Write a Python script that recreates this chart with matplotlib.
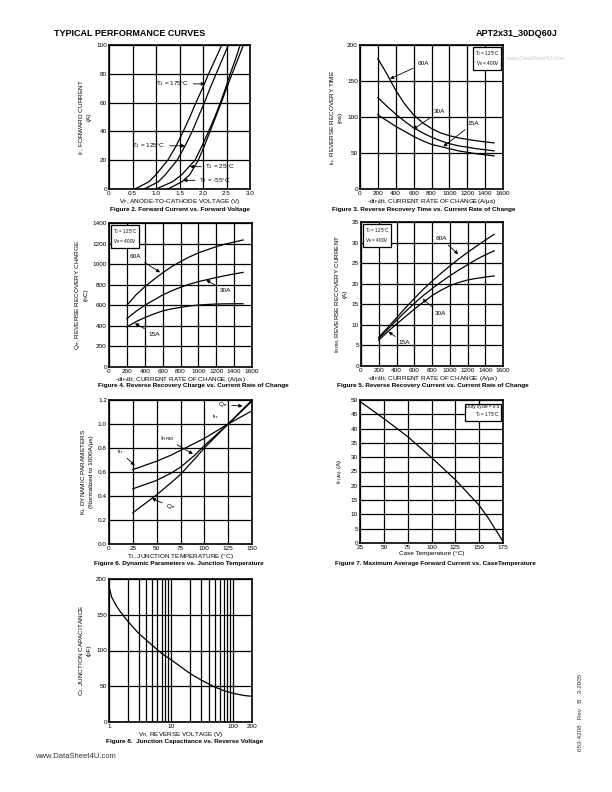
import matplotlib

matplotlib.use("Agg")
import matplotlib.pyplot as plt
from matplotlib.ticker import FixedLocator, NullFormatter

plt.rcParams["font.family"] = ["Liberation Sans", "DejaVu Sans"]
plt.rcParams["mathtext.fontset"] = "custom"
plt.rcParams["mathtext.rm"] = "Liberation Sans"

# Figure 2: forward current vs forward voltage
if_current = [0, 5, 10, 20, 30, 40, 50, 60, 70, 80, 90, 100]
vf_175 = [0.55, 0.85, 1.00, 1.25, 1.43, 1.58, 1.72, 1.85, 1.99, 2.12, 2.26, 2.40]
vf_125 = [0.75, 1.05, 1.20, 1.45, 1.62, 1.77, 1.90, 2.03, 2.15, 2.28, 2.41, 2.54]
vf_25 = [1.00, 1.35, 1.55, 1.83, 1.98, 2.12, 2.25, 2.37, 2.48, 2.58, 2.69, 2.79]
vf_m55 = [1.25, 1.55, 1.72, 1.90, 2.03, 2.15, 2.27, 2.39, 2.50, 2.62, 2.74, 2.86]

# shared di/dt axis for figures 3-5
didt = [200, 300, 400, 500, 600, 700, 800, 900, 1000, 1100, 1200, 1300, 1400, 1500]

# Figure 3: trr (ns)
trr_60 = [181, 160, 137, 118, 103, 92, 84, 78, 74, 71, 69, 67, 65.5, 64]
trr_30 = [127, 115, 104, 94, 85, 78, 72, 67, 63, 60, 58, 56, 54.5, 53]
trr_15 = [103, 95, 87, 80, 73, 67, 62, 59, 56, 53, 51, 49, 47.5, 46]

# Figure 4: Qrr (nC)
qrr_60 = [600, 700, 780, 850, 915, 975, 1025, 1070, 1110, 1140, 1170, 1195, 1215, 1235]
qrr_30 = [470, 540, 600, 650, 700, 740, 775, 805, 830, 850, 870, 888, 905, 920]
qrr_15 = [390, 440, 480, 515, 545, 565, 580, 593, 602, 608, 612, 614, 615, 615]

# Figure 5: IRRM (A)
irrm_60 = [7.0, 9.3, 11.7, 14.1, 16.4, 18.6, 20.6, 22.5, 24.3, 26.0, 27.6, 29.1, 30.6, 32.0]
irrm_30 = [6.7, 8.9, 11.1, 13.2, 15.2, 17.1, 18.8, 20.4, 21.9, 23.3, 24.6, 25.9, 27.0, 28.0]
irrm_15 = [6.3, 8.3, 10.2, 12.0, 13.8, 15.5, 17.1, 18.4, 19.5, 20.3, 20.9, 21.3, 21.6, 21.9]

# Figure 6: dynamic parameters vs junction temperature
tj = [25, 50, 65, 75, 90, 100, 125, 150]
k_trr = [0.62, 0.69, 0.74, 0.78, 0.84, 0.88, 1.00, 1.11]
k_irrm = [0.46, 0.53, 0.59, 0.64, 0.74, 0.82, 1.00, 1.19]
k_qrr = [0.26, 0.41, 0.51, 0.58, 0.71, 0.80, 1.00, 1.20]

# Figure 7: max average forward current vs case temperature
tcase = [25, 50, 75, 100, 125, 150, 160, 165, 170, 175]
if_av = [49.5, 43.5, 37.2, 29.9, 22.1, 13.2, 8.5, 5.8, 3.2, 0.5]

# Figure 8: junction capacitance vs reverse voltage
vr = [1, 1.1, 1.3, 1.5, 2, 3, 5, 7, 10, 20, 30, 50, 70, 100, 150, 200]
cj = [190, 175, 163, 155, 141, 124, 107, 96, 87, 68, 59, 49, 44, 40, 37, 36]

W, H = 612, 792
FS = 4.6


def add_axes(left, top, right, bottom):
    ax = fig.add_axes([left / W, 1 - bottom / H, (right - left) / W, (bottom - top) / H])
    ax.set_axisbelow(True)
    ax.grid(True, color="black", linewidth=0.9)
    for spine in ax.spines.values():
        spine.set_linewidth(1.2)
    ax.tick_params(length=0, labelsize=FS, pad=1.5)
    return ax


def arrow(ax, text, xy, xytext, ha="left"):
    ax.annotate(
        text, xy=xy, xytext=xytext, fontsize=FS, ha=ha, va="center",
        arrowprops=dict(arrowstyle="-|>", color="black", lw=0.6, mutation_scale=5, shrinkA=1, shrinkB=0),
    )


def cond_box(ax, lines, x, y, ha="left"):
    ax.text(x, y, lines, transform=ax.transAxes, fontsize=3.3, ha=ha, va="top", linespacing=1.3,
            bbox=dict(boxstyle="square,pad=0.35", fc="white", ec="black", lw=0.9))


def caption(text, xc, y):
    fig.text(xc / W, 1 - y / H, text, fontsize=FS, fontweight="bold", ha="center", va="center")


fig = plt.figure(figsize=(W / 100, H / 100), dpi=100)

fig.text(54 / W, 1 - 34 / H, "TYPICAL PERFORMANCE CURVES", fontsize=6.5, fontweight="bold", va="center")
fig.text(558 / W, 1 - 34 / H, "APT2x31_30DQ60J", fontsize=6.5, fontweight="bold", va="center", ha="right")

# ---- Figure 2
ax = add_axes(109, 45, 250, 189)
for vf in (vf_175, vf_125, vf_25, vf_m55):
    ax.plot(vf, if_current, color="black", lw=0.9)
ax.set_xlim(0, 3)
ax.set_ylim(0, 100)
ax.set_xticks([0, 0.5, 1, 1.5, 2, 2.5, 3])
ax.set_xticklabels(["0", "0.5", "1.0", "1.5", "2.0", "2.5", "3.0"])
ax.set_yticks(range(0, 101, 20))
arrow(ax, r"T$_\mathregular{J}$ = 175°C", (2.04, 73), (1.0, 73))
arrow(ax, r"T$_\mathregular{J}$ = 125°C", (1.62, 30), (0.5, 30))
arrow(ax, r"T$_\mathregular{J}$ = 25°C", (1.72, 15.5), (2.05, 15.5))
arrow(ax, r"T$_\mathregular{J}$ = -55°C", (1.58, 6), (1.92, 6))
ax.set_xlabel(r"V$_\mathregular{F}$, ANODE-TO-CATHODE VOLTAGE (V)", fontsize=FS, labelpad=1)
ax.set_ylabel("I$_\\mathregular{F}$, FORWARD CURRENT\n(A)", fontsize=FS, labelpad=3)
caption("Figure 2. Forward Current vs. Forward Voltage", 180, 209)

# ---- Figure 3
ax = add_axes(360, 45, 503, 189)
for y in (trr_60, trr_30, trr_15):
    ax.plot(didt, y, color="black", lw=0.9)
ax.set_xlim(0, 1600)
ax.set_ylim(0, 200)
ax.set_xticks(range(0, 1601, 200))
ax.set_yticks(range(0, 201, 50))
arrow(ax, "60A", (336, 153), (640, 174))
arrow(ax, "30A", (597, 83), (830, 108))
arrow(ax, "15A", (933, 59), (1200, 91))
cond_box(ax, "T$_\\mathregular{J}$ = 125°C\nV$_\\mathregular{R}$ = 400V", 0.975, 0.975, ha="right")
ax.set_xlabel(r"-di$_\mathregular{F}$/dt, CURRENT RATE OF CHANGE(A/µs)", fontsize=FS, labelpad=1)
ax.set_ylabel("t$_\\mathregular{rr}$, REVERSE RECOVERY TIME\n(ns)", fontsize=FS, labelpad=3)
caption("Figure 3. Reverse Recovery Time vs. Current Rate of Change", 424, 209)
fig.text(506 / W, 1 - 58 / H, "www.DataSheet4U.com", fontsize=4.0, color="#c8c8c8", ha="left", va="center")

# ---- Figure 4
ax = add_axes(109, 223, 252, 367)
for y in (qrr_60, qrr_30, qrr_15):
    ax.plot(didt, y, color="black", lw=0.9)
ax.set_xlim(0, 1600)
ax.set_ylim(0, 1400)
ax.set_xticks(range(0, 1601, 200))
ax.set_yticks(range(0, 1401, 200))
arrow(ax, "60A", (572, 920), (230, 1075))
arrow(ax, "30A", (1088, 845), (1240, 740))
arrow(ax, "15A", (290, 425), (440, 320))
cond_box(ax, "T$_\\mathregular{J}$ = 125°C\nV$_\\mathregular{R}$ = 400V", 0.025, 0.975)
ax.set_xlabel(r"-di$_\mathregular{F}$/dt, CURRENT RATE OF CHANGE (A/µs)", fontsize=FS, labelpad=1)
ax.set_ylabel("Q$_\\mathregular{rr}$, REVERSE RECOVERY CHARGE\n(nC)", fontsize=FS, labelpad=3)
caption("Figure 4. Reverse Recovery Charge vs. Current Rate of Change", 193, 386)

# ---- Figure 5
ax = add_axes(361, 222, 503, 366)
for y in (irrm_60, irrm_30, irrm_15):
    ax.plot(didt, y, color="black", lw=0.9)
ax.set_xlim(0, 1600)
ax.set_ylim(0, 35)
ax.set_xticks(range(0, 1601, 200))
ax.set_yticks(range(0, 36, 5))
arrow(ax, "60A", (1095, 27.2), (840, 30.9))
arrow(ax, "30A", (695, 16.3), (830, 12.8))
arrow(ax, "15A", (310, 8.3), (420, 5.7))
cond_box(ax, "T$_\\mathregular{J}$ = 125°C\nV$_\\mathregular{R}$ = 400V", 0.025, 0.975)
ax.set_xlabel(r"-di$_\mathregular{F}$/dt, CURRENT RATE OF CHANGE (A/µs)", fontsize=FS, labelpad=1)
ax.set_ylabel("I$_\\mathregular{RRM}$, REVERSE RECOVERY CURRENT\n(A)", fontsize=FS, labelpad=3)
caption("Figure 5. Reverse Recovery Current vs. Current Rate of Change", 433, 386)

# ---- Figure 6
ax = add_axes(109, 400, 252, 544)
for y in (k_trr, k_irrm, k_qrr):
    ax.plot(tj, y, color="black", lw=0.9)
ax.set_xlim(0, 150)
ax.set_ylim(0, 1.2)
ax.set_xticks(range(0, 151, 25))
ax.set_yticks([0, 0.2, 0.4, 0.6, 0.8, 1.0, 1.2])
ax.set_yticklabels(["0.0", "0.2", "0.4", "0.6", "0.8", "1.0", "1.2"])
arrow(ax, "t$_\\mathregular{rr}$", (27, 0.655), (8, 0.77))
arrow(ax, "I$_\\mathregular{RRM}$", (88, 0.75), (53, 0.88))
arrow(ax, "Q$_\\mathregular{rr}$", (45, 0.38), (60, 0.31))
arrow(ax, "Q$_\\mathregular{rr}$", (140, 1.15), (114, 1.16))
ax.text(108, 1.06, "t$_\\mathregular{rr}$", fontsize=FS, va="center")
ax.set_xlabel(r"T$_\mathregular{J}$, JUNCTION TEMPERATURE (°C)", fontsize=FS, labelpad=1)
ax.set_ylabel("K$_\\mathregular{f}$, DYNAMIC PARAMETERS\n(Normalized to 1000A/µs)", fontsize=FS, labelpad=3)
caption("Figure 6. Dynamic Parameters vs. Junction Temperature", 179, 564)

# ---- Figure 7
ax = add_axes(360, 400, 503, 543)
ax.plot(tcase, if_av, color="black", lw=0.9)
ax.set_xlim(25, 175)
ax.set_ylim(0, 50)
ax.set_xticks(range(25, 176, 25))
ax.set_yticks(range(0, 51, 5))
cond_box(ax, "Duty cycle = 0.5\nT$_\\mathregular{J}$ = 175°C", 0.975, 0.975, ha="right")
ax.set_xlabel("Case Temperature (°C)", fontsize=FS, labelpad=1)
ax.set_ylabel("I$_\\mathregular{F(AV)}$ (A)", fontsize=FS, labelpad=3)
caption("Figure 7. Maximum Average Forward Current vs. CaseTemperature", 435, 564)

# ---- Figure 8
ax = add_axes(109, 579, 252, 722)
ax.plot(vr, cj, color="black", lw=0.9)
ax.set_xscale("log")
ax.set_xlim(1, 200)
ax.set_ylim(0, 200)
ax.xaxis.set_major_locator(FixedLocator([1, 10, 100, 200]))
ax.set_xticklabels(["1", "10", "100", "200"])
ax.xaxis.set_minor_locator(FixedLocator([2, 3, 4, 5, 6, 7, 8, 9, 20, 30, 40, 50, 60, 70, 80, 90]))
ax.xaxis.set_minor_formatter(NullFormatter())
ax.grid(True, which="minor", axis="x", color="black", linewidth=0.9)
ax.tick_params(which="minor", length=0)
ax.set_yticks(range(0, 201, 50))
ax.set_xlabel(r"V$_\mathregular{R}$, REVERSE VOLTAGE (V)", fontsize=FS, labelpad=1)
ax.set_ylabel("C$_\\mathregular{J}$, JUNCTION CAPACITANCE\n(pF)", fontsize=FS, labelpad=3)
caption("Figure 8.  Junction Capacitance vs. Reverse Voltage", 185, 742)

fig.text(35 / W, 1 - 756 / H, "www.DataSheet4U.com", fontsize=5.5, color="#333333", va="center")
fig.text(581 / W, 1 - 712 / H, "053-4208   Rev   B   3-2005", fontsize=4.5, rotation=90,
         ha="center", va="center", color="#333333")

fig.savefig("out.png", dpi=100)
